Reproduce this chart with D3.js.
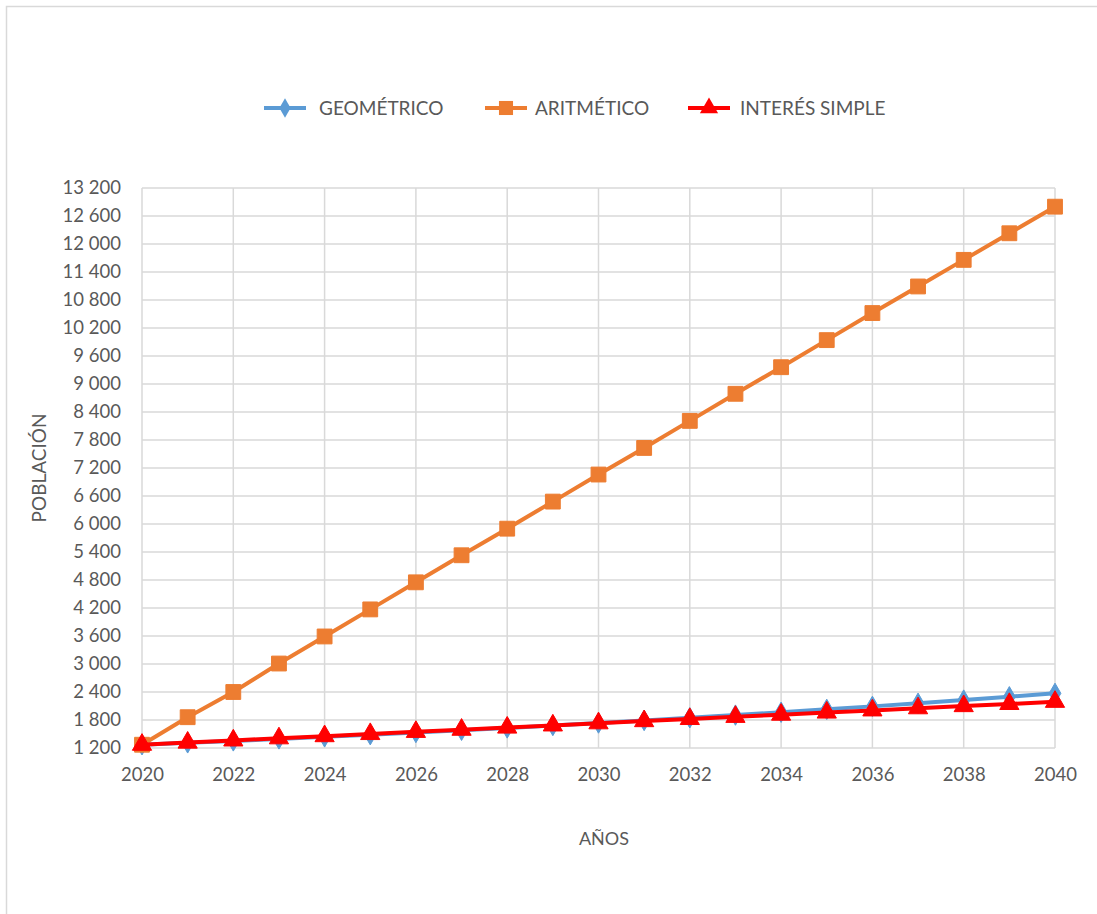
<!DOCTYPE html>
<html>
<head>
<meta charset="utf-8">
<script src="https://cdn.jsdelivr.net/npm/d3@7"></script>
<style>
  html, body { margin: 0; padding: 0; background: #fff; }
  svg { display: block; font-family: Lato, "Open Sans", sans-serif; }
</style>
</head>
<body>
<svg id="chart" width="1097" height="914"></svg>
<script>
"use strict";

const years = d3.range(2020, 2041);
const yTicks = d3.range(1200, 13201, 600);
const xTicks = d3.range(2020, 2041, 2);

const geometrico = [1270, 1310, 1352, 1395, 1439, 1485, 1532, 1580, 1630, 1682, 1735,
    1790, 1847, 1905, 1966, 2028, 2092, 2159, 2227, 2298, 2371];
const aritmetico = [1270, 1860, 2400, 3010, 3590, 4170, 4750, 5330, 5900, 6480, 7060,
    7630, 8210, 8790, 9360, 9940, 10520, 11090, 11660, 12230, 12800];
const interesSimple = [1270, 1316, 1362, 1408, 1454, 1500, 1546, 1592, 1638, 1684, 1730,
    1776, 1822, 1868, 1914, 1960, 2006, 2052, 2098, 2144, 2190];

const series = [
    {name: "GEOMÉTRICO", values: geometrico, color: "#5b9bd5", symbol: d3.symbolDiamond, size: 120},
    {name: "ARITMÉTICO", values: aritmetico, color: "#ed7d31", symbol: d3.symbolSquare, size: 220},
    {name: "INTERÉS SIMPLE", values: interesSimple, color: "#ff0000", symbol: d3.symbolTriangle, size: 160},
];

const svg = d3.select("#chart");
const textColor = "#595959";
const gridColor = "#d9d9d9";

// chart frame
svg.append("rect")
    .attr("x", 6.5).attr("y", 6.5)
    .attr("width", 1200).attr("height", 1200)
    .attr("fill", "none")
    .attr("stroke", gridColor)
    .attr("stroke-width", 1.5);

const x = d3.scaleLinear().domain([2020, 2040]).range([142, 1055]);
const y = d3.scaleLinear().domain([1200, 13200]).range([748, 188]);

// gridlines
const grid = svg.append("g");
grid.selectAll(".h")
    .data(yTicks)
    .join("line")
    .attr("x1", x(2020)).attr("x2", x(2040))
    .attr("y1", d => y(d)).attr("y2", d => y(d))
    .attr("stroke", gridColor).attr("stroke-width", 1.5);
grid.selectAll(".v")
    .data(xTicks)
    .join("line")
    .attr("x1", d => x(d)).attr("x2", d => x(d))
    .attr("y1", y(1200)).attr("y2", y(13200))
    .attr("stroke", gridColor).attr("stroke-width", 1.5);

// axes
const fmt = d => d3.format(",")(d).replace(/,/g, " ");
const yAxis = svg.append("g")
    .attr("transform", `translate(${x(2020)},0)`)
    .call(d3.axisLeft(y).tickValues(yTicks).tickFormat(fmt).tickSize(0).tickPadding(21));
const xAxis = svg.append("g")
    .attr("transform", `translate(0,${y(1200)})`)
    .call(d3.axisBottom(x).tickValues(xTicks).tickFormat(d3.format("d")).tickSize(0).tickPadding(24));
for (const axis of [yAxis, xAxis]) {
    axis.select(".domain").remove();
    axis.selectAll("text")
        .attr("fill", textColor)
        .style("font-size", "18.5px")
        .style("font-family", "Lato, sans-serif");
}
xAxis.selectAll("text").attr("dy", "0.5em");

// axis titles
svg.append("text")
    .attr("x", 604).attr("y", 845)
    .attr("text-anchor", "middle")
    .attr("fill", textColor)
    .style("font-size", "18px")
    .text("AÑOS");
svg.append("text")
    .attr("transform", "translate(46,468) rotate(-90)")
    .attr("text-anchor", "middle")
    .attr("fill", textColor)
    .style("font-size", "19px")
    .text("POBLACIÓN");

// lines and markers
const line = d3.line()
    .x((d, i) => x(years[i]))
    .y(d => y(d));

for (const s of series) {
    const g = svg.append("g");
    g.append("path")
        .datum(s.values)
        .attr("d", line)
        .attr("fill", "none")
        .attr("stroke", s.color)
        .attr("stroke-width", 4)
        .attr("stroke-linejoin", "round");
    g.selectAll("path.marker")
        .data(s.values)
        .join("path")
        .attr("class", "marker")
        .attr("transform", (d, i) => `translate(${x(years[i])},${y(d)})`)
        .attr("d", d3.symbol().type(s.symbol).size(s.size))
        .attr("fill", s.color)
        .attr("stroke", s.color)
        .attr("stroke-width", 1);
}

// legend
const legendItems = [
    {lineX: 264, textX: 319},
    {lineX: 485, textX: 535},
    {lineX: 688, textX: 740},
];
const legendY = 108;
series.forEach((s, i) => {
    const item = legendItems[i];
    const g = svg.append("g");
    g.append("line")
        .attr("x1", item.lineX).attr("x2", item.lineX + 42)
        .attr("y1", legendY).attr("y2", legendY)
        .attr("stroke", s.color).attr("stroke-width", 4);
    g.append("path")
        .attr("transform", `translate(${item.lineX + 21},${legendY})`)
        .attr("d", d3.symbol().type(s.symbol).size(s.size * 0.9))
        .attr("fill", s.color);
    g.append("text")
        .attr("x", item.textX).attr("y", legendY)
        .attr("dy", "0.35em")
        .attr("fill", textColor)
        .style("font-size", "19px")
        .text(s.name);
});
</script>
</body>
</html>
